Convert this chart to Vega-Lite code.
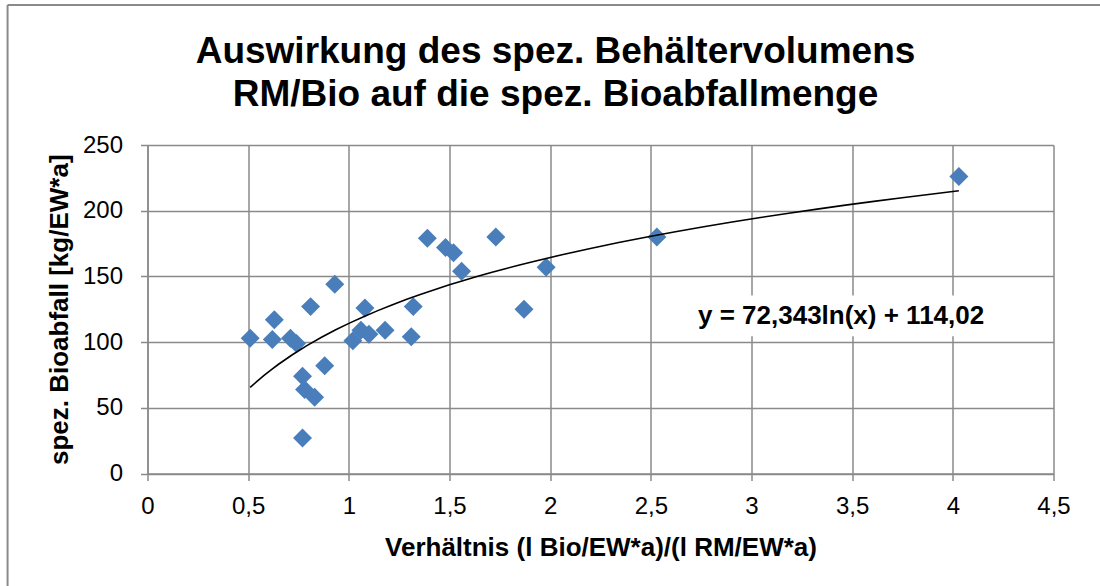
{
  "$schema": "https://vega.github.io/schema/vega-lite/v6.json",
  "autosize": {"type": "none"},
  "width": 906,
  "height": 328.5,
  "padding": {"left": 147.5, "top": 145, "right": 46.5, "bottom": 112.5},
  "background": "white",
  "title": {
    "text": ["Auswirkung des spez. Behältervolumens", "RM/Bio auf die spez. Bioabfallmenge"],
    "font": "Liberation Sans",
    "fontSize": 37,
    "fontWeight": "bold",
    "lineHeight": 43,
    "color": "black",
    "anchor": "middle",
    "dx": -45,
    "offset": -110
  },
  "config": {
    "view": {"stroke": null},
    "font": "Liberation Sans",
    "axis": {
      "labelFont": "Liberation Sans",
      "labelFontSize": 24,
      "labelColor": "black",
      "titleFont": "Liberation Sans",
      "titleFontSize": 26,
      "titleFontWeight": "bold",
      "titleColor": "black",
      "gridColor": "#8a8a8a",
      "gridWidth": 1.5,
      "gridOpacity": 1,
      "domainColor": "#8a8a8a",
      "domainWidth": 1.5,
      "tickColor": "#8a8a8a",
      "tickWidth": 1.5,
      "tickSize": 7
    }
  },
  "data": {
    "values": [
      {"x": 0.51, "y": 103},
      {"x": 0.62, "y": 102},
      {"x": 0.63, "y": 117},
      {"x": 0.71, "y": 103},
      {"x": 0.74, "y": 99},
      {"x": 0.77, "y": 74},
      {"x": 0.77, "y": 27},
      {"x": 0.78, "y": 64},
      {"x": 0.81, "y": 127},
      {"x": 0.83, "y": 58},
      {"x": 0.88, "y": 82},
      {"x": 0.93, "y": 144},
      {"x": 1.02, "y": 101},
      {"x": 1.06, "y": 109},
      {"x": 1.08, "y": 126},
      {"x": 1.10, "y": 106},
      {"x": 1.18, "y": 109},
      {"x": 1.31, "y": 104},
      {"x": 1.32, "y": 127},
      {"x": 1.39, "y": 179},
      {"x": 1.48, "y": 172},
      {"x": 1.52, "y": 168},
      {"x": 1.56, "y": 154},
      {"x": 1.73, "y": 180},
      {"x": 1.87, "y": 125},
      {"x": 1.98, "y": 157},
      {"x": 2.53, "y": 180},
      {"x": 4.03, "y": 226}
    ]
  },
  "layer": [
    {
      "mark": {"type": "point", "shape": "diamond", "filled": true, "size": 360, "color": "#4a7ebb", "opacity": 1},
      "encoding": {
        "x": {
          "field": "x", "type": "quantitative",
          "scale": {"domain": [0, 4.5], "nice": false, "zero": false},
          "axis": {
            "values": [0, 0.5, 1, 1.5, 2, 2.5, 3, 3.5, 4, 4.5],
            "labelExpr": "replace(format(datum.value, '~g'), '.', ',')",
            "labelPadding": 14,
            "labelFlush": false,
            "titlePadding": 16,
            "title": "Verhältnis (l Bio/EW*a)/(l RM/EW*a)"
          }
        },
        "y": {
          "field": "y", "type": "quantitative",
          "scale": {"domain": [0, 250], "nice": false},
          "axis": {
            "values": [0, 50, 100, 150, 200, 250],
            "labelPadding": 18,
            "labelFlush": false,
            "titlePadding": 10,
            "title": "spez. Bioabfall [kg/EW*a]"
          }
        }
      }
    },
    {
      "transform": [{"regression": "y", "on": "x", "method": "log"}],
      "mark": {"type": "line", "color": "black", "strokeWidth": 1.6},
      "encoding": {
        "x": {"field": "x", "type": "quantitative"},
        "y": {"field": "y", "type": "quantitative"}
      }
    },
    {
      "data": {"values": [{}]},
      "mark": {"type": "rect", "color": "white", "opacity": 1},
      "encoding": {
        "x": {"datum": 2.72},
        "x2": {"datum": 4.18},
        "y": {"datum": 104.5},
        "y2": {"datum": 135.5}
      }
    },
    {
      "data": {"values": [{}]},
      "mark": {"type": "text", "text": "y = 72,343ln(x) + 114,02", "font": "Liberation Sans", "fontSize": 26, "fontWeight": "bold", "color": "black", "align": "center", "baseline": "middle"},
      "encoding": {
        "x": {"datum": 3.445},
        "y": {"datum": 120}
      }
    },
    {
      "data": {"values": [{}]},
      "mark": {"type": "rule", "color": "#8a8a8a", "strokeWidth": 2, "clip": false},
      "encoding": {
        "x": {"datum": -0.695},
        "x2": {"datum": 4.75},
        "y": {"datum": 356.5}
      }
    },
    {
      "data": {"values": [{}]},
      "mark": {"type": "rule", "color": "#8a8a8a", "strokeWidth": 2, "clip": false},
      "encoding": {
        "x": {"datum": -0.695},
        "y": {"datum": 356.5},
        "y2": {"datum": -90}
      }
    }
  ]
}
